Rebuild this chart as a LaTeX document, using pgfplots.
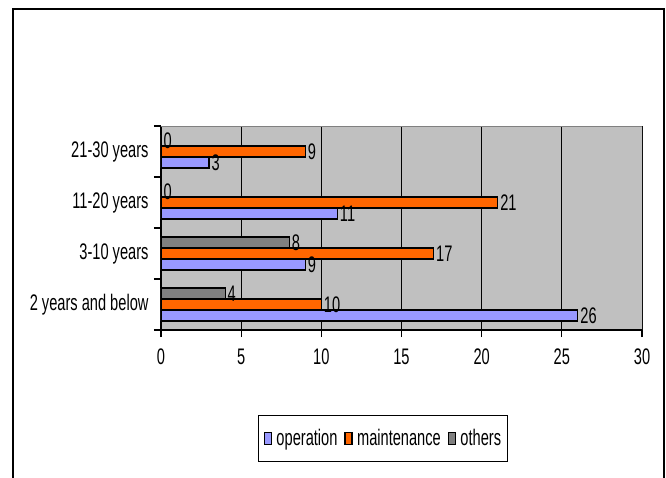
\documentclass[border=0pt]{standalone}
\usepackage{pgfplots}
\pgfplotsset{compat=1.18}
\usepackage{fontspec}
\setmainfont[FakeStretch=0.65]{Liberation Sans}
\definecolor{opblue}{HTML}{9999FF}
\definecolor{mtorange}{HTML}{FF6600}
\definecolor{othgray}{HTML}{808080}
\definecolor{plotbg}{HTML}{C0C0C0}
\newcommand\cf{\fontsize{22.5bp}{26bp}\selectfont}

\pgfplotsset{
  sq legend/.style={legend image code/.code={%
    \draw[##1, line width=1.2bp, draw=black] (0bp,-6bp) rectangle (7bp,6bp);
    \path[draw=none, fill=none] (0bp,0bp) -- (11bp,0bp);}},
}

\begin{document}
\begin{tikzpicture}
\useasboundingbox (-161bp,-148bp) rectangle (505bp,330bp);
\draw[line width=2bp, black] (-148bp,-160bp) -- (-148bp,321bp) -- (503bp,321bp) -- (503bp,-160bp);
\begin{axis}[
  at={(0,0)}, anchor=south west,
  scale only axis, width=481bp, height=204bp,
  xbar=0pt, bar width=11bp,
  xmin=0, xmax=30, ymin=-0.5, ymax=3.5,
  xtick={0,5,...,30},
  ytick={-0.5,0.5,1.5,2.5,3.5},
  yticklabels={},
  extra y ticks={0,1,2,3},
  extra y tick labels={2 years and below,3-10 years,11-20 years,21-30 years},
  extra y tick style={major tick length=0pt},
  axis lines*=left,
  axis line style={line width=1.2bp, black},
  tick align=outside,
  major tick length=7bp,
  tick style={black, line width=1.2bp},
  xmajorgrids, grid style={black, line width=0.8bp},
  axis background/.style={fill=plotbg},
  /pgf/number format/assume math mode=true,
  tick label style={font=\cf},
  xticklabel style={yshift=-8bp},
  yticklabel style={xshift=-9bp},
  nodes near coords,
  every node near coord/.append style={anchor=west, font=\cf, inner sep=2bp, text=black},
  legend style={at={(0.4615,-0.532)}, anchor=center, draw=black, line width=1bp,
    font=\cf, inner xsep=5bp, inner ysep=13bp,
    nodes={inner xsep=1bp, inner ysep=1bp},
    /tikz/every even column/.append style={column sep=6bp}},
  legend columns=3,
]
% operation (lowest bar of each group)
\addplot[fill=opblue, draw=black, line width=1.2bp, bar shift=-11bp, sq legend]
  coordinates {(26,0) (9,1) (11,2) (3,3)};
% maintenance (middle bar)
\addplot[fill=mtorange, draw=black, line width=1.2bp, bar shift=0bp, sq legend]
  coordinates {(10,0) (17,1) (21,2) (9,3)};
% others (top bar)
\addplot[fill=othgray, draw=black, line width=1.2bp, bar shift=11bp, sq legend]
  coordinates {(4,0) (8,1) (0,2) (0,3)};
\legend{operation, maintenance, others}
\draw[othgray, line width=1bp] (rel axis cs:0,1) -- (rel axis cs:1,1) -- (rel axis cs:1,0);
\end{axis}
\end{tikzpicture}
\end{document}
